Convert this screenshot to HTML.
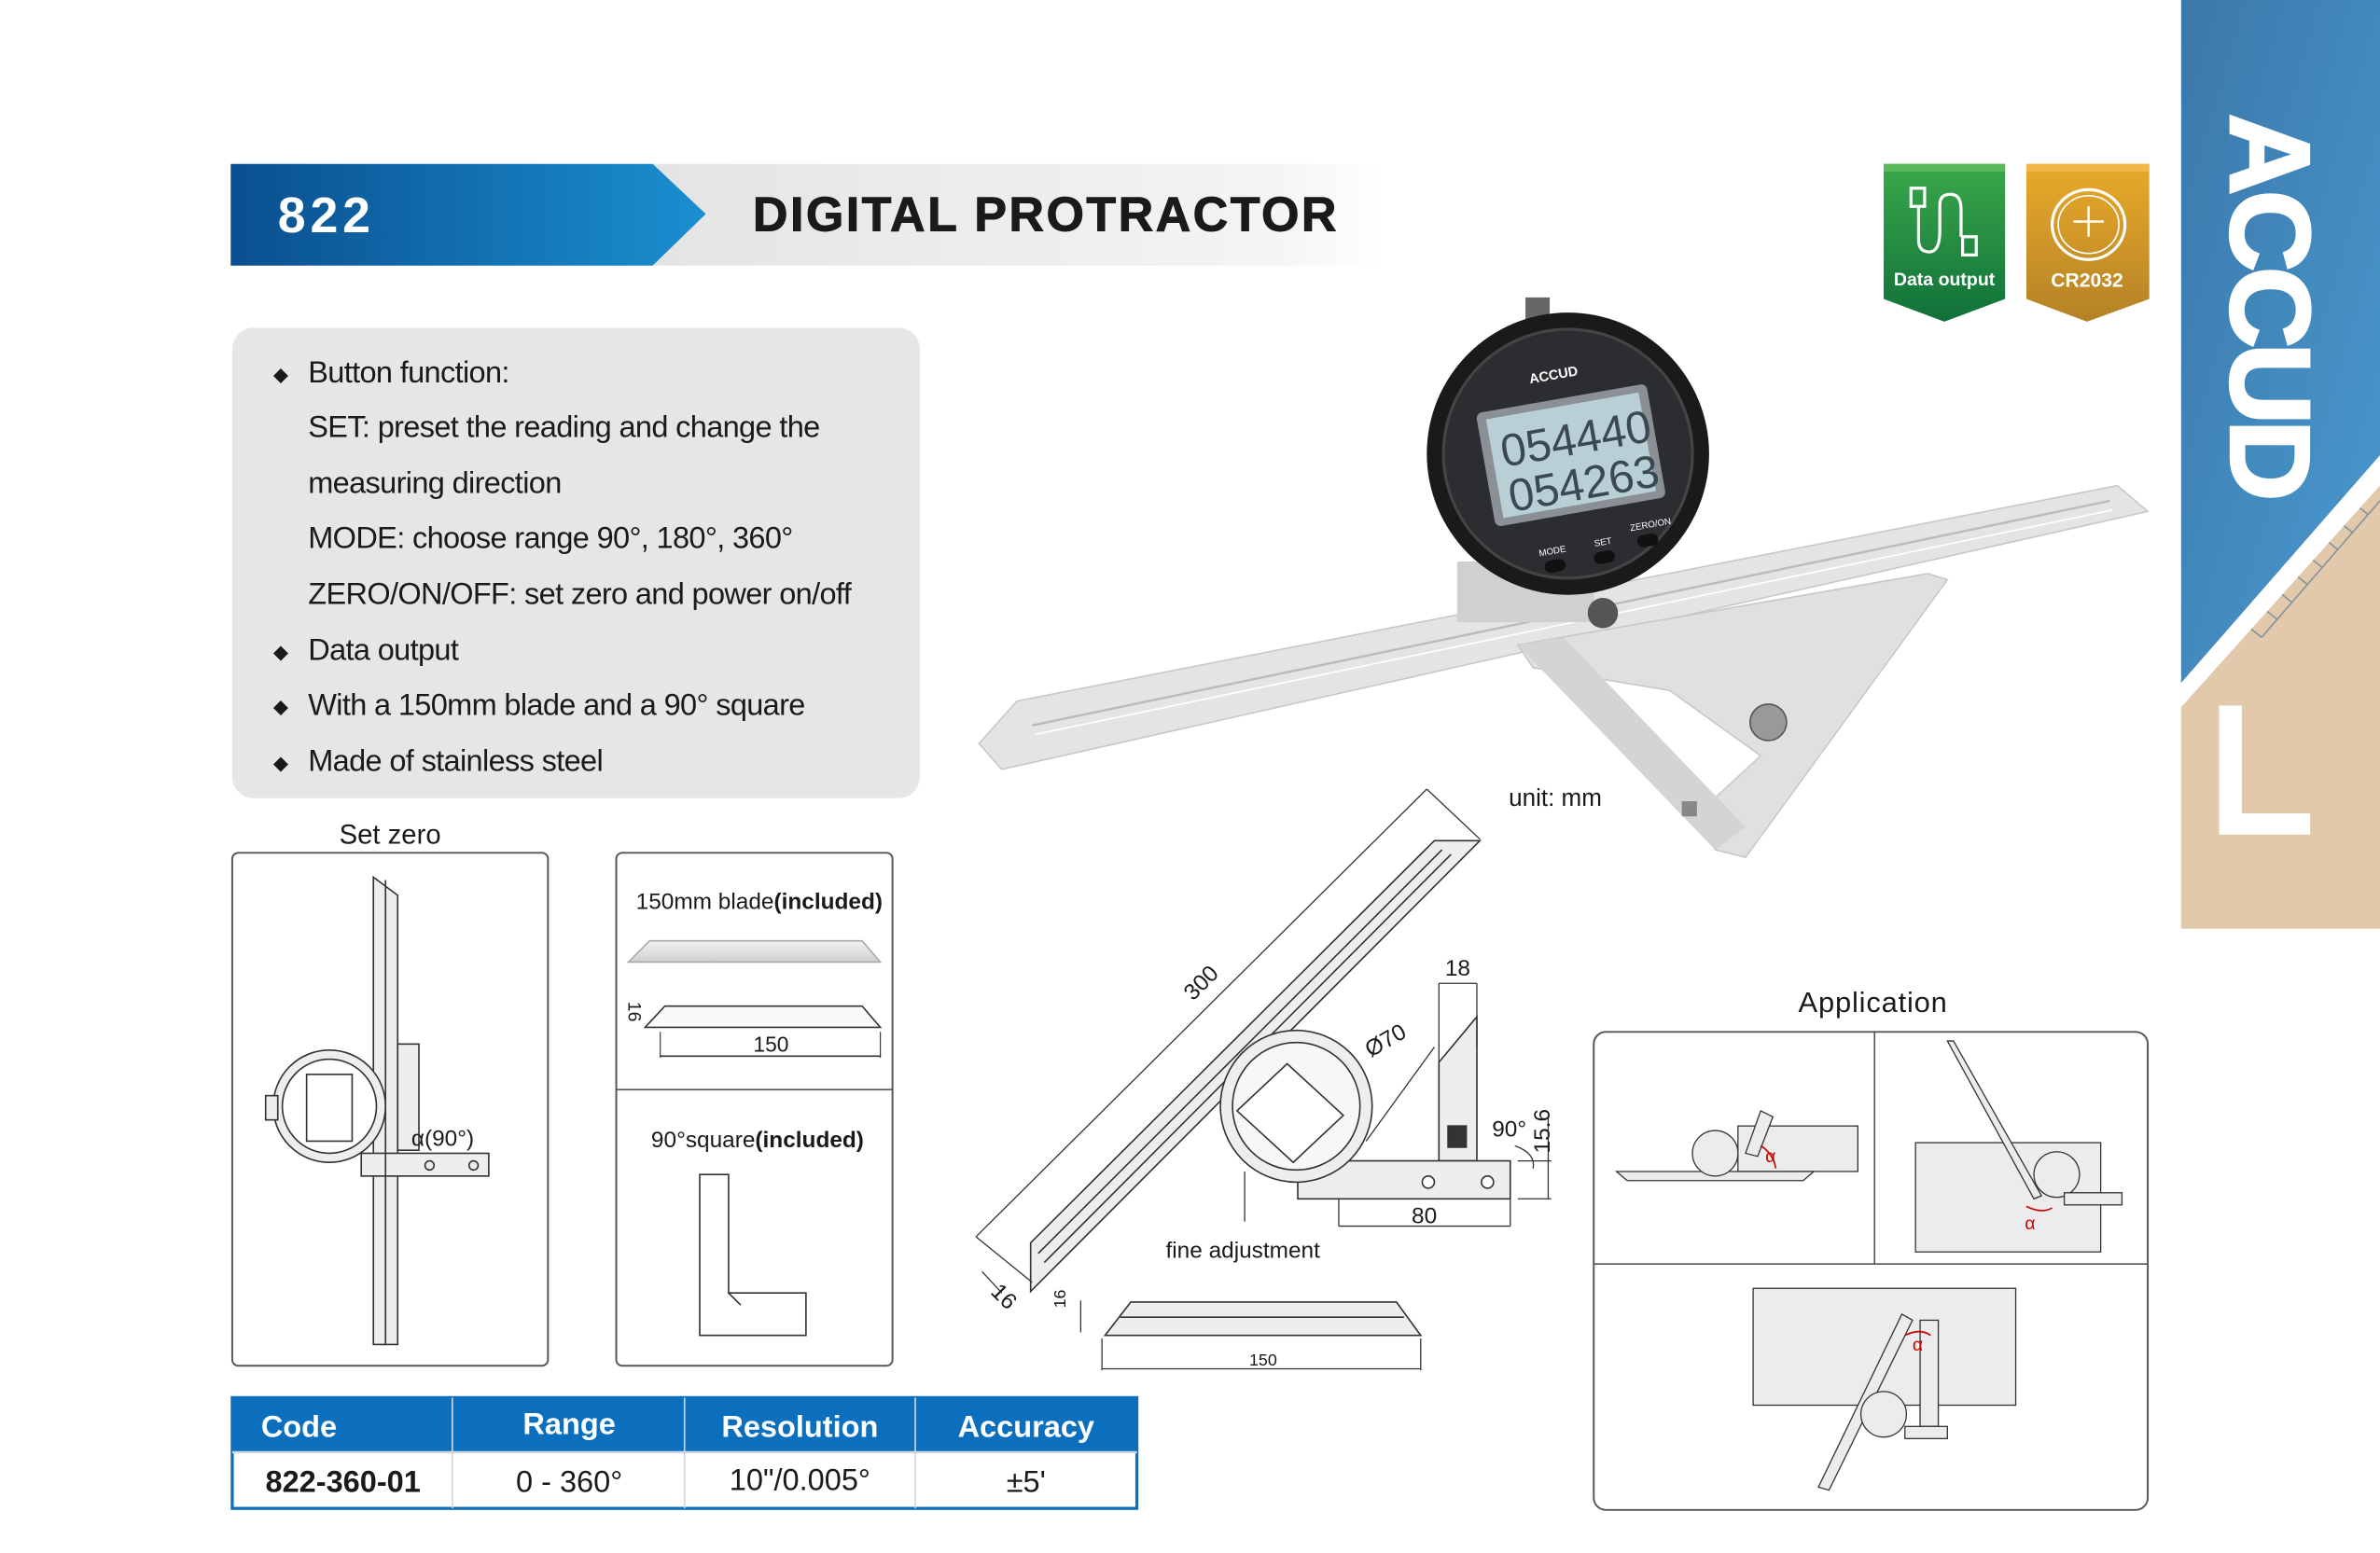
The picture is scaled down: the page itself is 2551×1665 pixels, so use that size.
<!DOCTYPE html>
<html><head><meta charset="utf-8"><style>
html,body{margin:0;padding:0;background:#fff;}
svg{display:block;}
text{font-family:"Liberation Sans",sans-serif;}
</style></head><body>
<svg width="2551" height="1665" viewBox="0 0 1568 1023.4" preserveAspectRatio="none" xmlns="http://www.w3.org/2000/svg">
<defs>
<linearGradient id="hb" x1="0" x2="1"><stop offset="0" stop-color="#0a4f8f"/><stop offset="1" stop-color="#1a8fd0"/></linearGradient>
<linearGradient id="hg" x1="0" x2="1"><stop offset="0" stop-color="#e4e4e4"/><stop offset="0.85" stop-color="#f4f4f4"/><stop offset="1" stop-color="#fff"/></linearGradient>
<linearGradient id="gr" x1="0" y1="0" x2="0" y2="1"><stop offset="0" stop-color="#3aa84a"/><stop offset="1" stop-color="#11703a"/></linearGradient>
<linearGradient id="or" x1="0" y1="0" x2="0" y2="1"><stop offset="0" stop-color="#e9aa2a"/><stop offset="1" stop-color="#b48226"/></linearGradient>
<linearGradient id="bl" x1="0" y1="0" x2="1" y2="1"><stop offset="0" stop-color="#3b78aa"/><stop offset="1" stop-color="#4a9ad0"/></linearGradient>
<linearGradient id="steel" x1="0" y1="0" x2="0" y2="1"><stop offset="0" stop-color="#f2f2f2"/><stop offset="1" stop-color="#d0d0d0"/></linearGradient>
</defs>

<!-- header -->
<polygon points="430,108 910,108 910,175 430,175" fill="url(#hg)"/>
<polygon points="152,108 430,108 465,141 430,175 152,175" fill="url(#hb)"/>
<text x="183" y="153" font-size="33" font-weight="bold" fill="#fff" letter-spacing="3">822</text>
<text x="496" y="152" font-size="32" font-weight="bold" fill="#1a1a1a" letter-spacing="1.5" stroke="#1a1a1a" stroke-width="0.6">DIGITAL PROTRACTOR</text>

<!-- feature box -->
<rect x="153" y="216" width="453" height="310" rx="14" fill="#e6e6e6"/>
<g font-size="20" fill="#1a1a1a" letter-spacing="-0.4">
<text x="180" y="251" font-size="13">◆</text><text x="203" y="252">Button function:</text>
<text x="203" y="288">SET: preset the reading and change the</text>
<text x="203" y="325">measuring direction</text>
<text x="203" y="361">MODE: choose range 90°, 180°, 360°</text>
<text x="203" y="398">ZERO/ON/OFF: set zero and power on/off</text>
<text x="180" y="434" font-size="13">◆</text><text x="203" y="435">Data output</text>
<text x="180" y="470" font-size="13">◆</text><text x="203" y="471">With a 150mm blade and a 90° square</text>
<text x="180" y="507" font-size="13">◆</text><text x="203" y="508">Made of stainless steel</text>
</g>

<!-- badges -->
<polygon points="1241,108 1321,108 1321,197 1281,212 1241,197" fill="url(#gr)"/>
<rect x="1241" y="108" width="80" height="5" fill="#5cb85c"/>
<g stroke="#fff" stroke-width="2" fill="none"><rect x="1259" y="124" width="9" height="12"/><path d="M1264,136 V158 Q1264,166 1271,166 Q1278,166 1278,152 V135 Q1278,128 1285,128 Q1292,128 1292,138 V156"/><rect x="1293" y="156" width="9" height="12"/></g>
<text x="1281" y="188" font-size="12" font-weight="bold" fill="#fff" text-anchor="middle">Data output</text>
<polygon points="1335,108 1416,108 1416,197 1375,212 1335,197" fill="url(#or)"/>
<rect x="1335" y="108" width="81" height="5" fill="#f0b84a"/>
<ellipse cx="1376" cy="148" rx="24" ry="23" fill="none" stroke="#fff" stroke-width="2"/>
<ellipse cx="1376" cy="148" rx="20" ry="19" fill="none" stroke="#fff" stroke-width="1"/>
<path d="M1366,146 H1386 M1376,136 V156" stroke="#fff" stroke-width="1.5"/>
<text x="1375" y="189" font-size="13" font-weight="bold" fill="#fff" text-anchor="middle">CR2032</text>

<!-- right banner -->
<rect x="1437" y="0" width="131" height="612" fill="#e2c9ac"/>
<polygon points="1437,0 1568,0 1568,300 1437,450" fill="url(#bl)"/>
<g stroke="#2d5f88" stroke-width="1" opacity="0.5"><path d="M1490,420 L1568,330"/><path d="M1490,420 l-15,-12 M1500,408 l-10,-8 M1510,397 l-15,-12 M1520,385 l-10,-8 M1530,374 l-15,-12 M1540,362 l-10,-8 M1550,351 l-15,-12 M1560,339 l-10,-8"/></g>
<polygon points="1437,450 1568,300 1568,320 1437,466" fill="#fff"/>
<text x="0" y="0" transform="translate(1470,75) rotate(90)" font-size="74" font-weight="bold" fill="#fff" letter-spacing="-3" stroke="#fff" stroke-width="2">ACCUD</text>
<polygon points="1462,465 1477,465 1477,536 1522,536 1522,550 1462,550" fill="#fff"/>

<!-- product photo -->
<polygon points="645,490 670,462 1395,320 1415,337 660,507" fill="#e4e4e4" stroke="#c8c8c8"/>
<path d="M680,478 L1390,330" stroke="#bbb" stroke-width="1.5"/>
<path d="M682,484 L1392,336" stroke="#fff" stroke-width="1"/>
<polygon points="1000,425 1270,378 1283,382 1150,565 1130,560 1120,535 1160,498 1100,455 1010,440" fill="#e0e0e0" stroke="#c8c8c8"/>
<polygon points="1000,425 1030,420 1150,545 1130,560" fill="#d4d4d4"/>
<circle cx="1165" cy="476" r="12" fill="#999" stroke="#555"/>
<rect x="1108" y="528" width="10" height="10" fill="#888"/>
<rect x="960" y="370" width="90" height="40" fill="#d0d0d0"/>
<circle cx="1056" cy="404" r="10" fill="#555"/>
<rect x="1005" y="196" width="16" height="20" fill="#666"/>
<circle cx="1033" cy="299" r="93" fill="#1a1a1a"/>
<circle cx="1033" cy="299" r="82" fill="#2b2d30" stroke="#444" stroke-width="2"/>
<text x="1024" y="250" font-size="9" font-weight="bold" fill="#fff" text-anchor="middle" transform="rotate(-10 1024 250)">ACCUD</text>
<g transform="rotate(-10 1035 300)">
<rect x="978" y="262" width="114" height="76" rx="4" fill="#8a9095"/>
<rect x="984" y="267" width="102" height="66" fill="#b9cfd6"/>
<text x="990" y="300" font-size="30" fill="#3a4a50" font-family="Liberation Mono">054440</text>
<text x="990" y="330" font-size="30" fill="#3a4a50" font-family="Liberation Mono">054263</text>
<text x="1003" y="362" font-size="6" fill="#fff">MODE</text><text x="1040" y="362" font-size="6" fill="#fff">SET</text><text x="1065" y="356" font-size="6" fill="#fff">ZERO/ON</text>
<rect x="1005" y="366" width="14" height="8" rx="4" fill="#111"/><rect x="1038" y="366" width="14" height="8" rx="4" fill="#111"/><rect x="1068" y="360" width="14" height="8" rx="4" fill="#111"/>
</g>

<text x="994" y="531" font-size="16" fill="#1a1a1a">unit: mm</text>

<!-- set zero panel -->
<text x="257" y="556" font-size="18" fill="#1a1a1a" text-anchor="middle">Set zero</text>
<rect x="153" y="562" width="208" height="338" rx="4" fill="#fff" stroke="#555" stroke-width="1.2"/>
<g fill="#eee" stroke="#333" stroke-width="1">
<polygon points="246,578 262,590 262,886 246,886"/>
<rect x="262" y="688" width="14" height="70"/>
<rect x="238" y="760" width="84" height="15"/>
<circle cx="217" cy="729" r="37"/>
<circle cx="217" cy="729" r="31" fill="#fff"/>
<rect x="202" y="708" width="30" height="44" fill="#fff"/>
<rect x="175" y="722" width="8" height="16"/>
</g>
<path d="M254,580 V886" stroke="#333"/>
<circle cx="283" cy="768" r="3" fill="none" stroke="#333"/><circle cx="312" cy="768" r="3" fill="none" stroke="#333"/>
<text x="271" y="755" font-size="15" fill="#1a1a1a">α(90°)</text>

<!-- blade / square panel -->
<rect x="406" y="562" width="182" height="338" rx="4" fill="#fff" stroke="#555" stroke-width="1.2"/>
<path d="M406,718 H588" stroke="#555"/>
<text x="419" y="599" font-size="15" fill="#1a1a1a">150mm blade<tspan font-weight="bold">(included)</tspan></text>
<polygon points="414,634 428,620 568,620 580,634" fill="url(#steel)" stroke="#aaa"/>
<polygon points="425,677 438,663 568,663 580,677" fill="#fafafa" stroke="#333"/>
<path d="M435,696 H580" stroke="#333"/><path d="M435,680 V697 M580,680 V697" stroke="#333" stroke-width="0.7"/>
<text x="508" y="693" font-size="14" text-anchor="middle" fill="#1a1a1a">150</text>
<text x="0" y="0" transform="translate(414,660) rotate(90)" font-size="12" fill="#1a1a1a">16</text>
<text x="429" y="756" font-size="15" fill="#1a1a1a">90°square<tspan font-weight="bold">(included)</tspan></text>
<polygon points="461,774 480,774 480,852 531,852 531,880 461,880" fill="#fff" stroke="#333"/>
<path d="M480,852 L488,860" stroke="#333"/>

<!-- technical drawing -->
<g stroke="#333" stroke-width="1" fill="#eee">
<polygon points="679,851 679,819 945,554 975,554"/>
<path d="M684,826 L950,560 M688,832 L956,563" fill="none"/>
<polygon points="948,700 973,670 973,765 948,765"/>
<polygon points="855,765 995,765 995,790 855,790"/>
<circle cx="854" cy="729" r="50"/>
<circle cx="854" cy="729" r="42" fill="#f7f7f7"/>
<polygon points="848,701 885,735 852,766 815,732" fill="#fff"/>
<rect x="954" y="742" width="12" height="14" fill="#333"/>
</g>
<circle cx="941" cy="779" r="4" fill="#fff" stroke="#333"/><circle cx="980" cy="779" r="4" fill="#fff" stroke="#333"/>
<g stroke="#333" stroke-width="0.8" fill="none">
<path d="M643,815 L940,520 M940,520 L975,553 M643,815 L680,845"/>
<path d="M647,838 L660,852"/>
<path d="M948,648 H973 M948,648 V700 M973,648 V690"/>
<path d="M995,790 V808 M882,808 H995 M882,790 V808"/>
<path d="M1000,765 H1022 M1000,790 H1022 M1020,735 V790"/>
<path d="M820,772 V805"/>
<path d="M900,752 L945,690"/>
<path d="M728,880 H936 M726,882 V903 M936,882 V903 M726,902 H936"/>
<path d="M712,857 V878"/>
<path d="M998,755 Q1012,760 1010,770"/>
</g>
<polygon points="728,880 745,858 920,858 936,880" fill="#eee" stroke="#333"/>
<path d="M738,868 H925" stroke="#333"/>
<text x="0" y="0" transform="translate(786,660) rotate(-45)" font-size="15" fill="#1a1a1a">300</text>
<text x="0" y="0" transform="translate(652,852) rotate(45)" font-size="15" fill="#1a1a1a">16</text>
<text x="0" y="0" transform="translate(903,697) rotate(-30)" font-size="15" fill="#1a1a1a">Ø70</text>
<text x="952" y="643" font-size="15" fill="#1a1a1a">18</text>
<text x="983" y="749" font-size="15" fill="#1a1a1a">90°</text>
<text x="0" y="0" transform="translate(1021,760) rotate(-90)" font-size="15" fill="#1a1a1a">15.6</text>
<text x="930" y="806" font-size="15" fill="#1a1a1a">80</text>
<text x="768" y="829" font-size="15" fill="#1a1a1a">fine adjustment</text>
<text x="0" y="0" transform="translate(702,862) rotate(-90)" font-size="11" fill="#1a1a1a">16</text>
<text x="823" y="900" font-size="11" fill="#1a1a1a">150</text>

<!-- application -->
<text x="1234" y="667" font-size="19" fill="#1a1a1a" text-anchor="middle" letter-spacing="0.5">Application</text>
<rect x="1050" y="680" width="365" height="315" rx="8" fill="#fff" stroke="#555" stroke-width="1.2"/>
<path d="M1050,833 H1415 M1235,680 V833" stroke="#555"/>
<g stroke="#333" stroke-width="0.8" fill="#ececec">
<rect x="1145" y="742" width="79" height="30"/>
<polygon points="1065,772 1195,772 1188,778 1072,778"/>
<polygon points="1150,760 1160,732 1168,736 1158,762"/>
<circle cx="1130" cy="760" r="15"/>
<rect x="1262" y="753" width="122" height="72"/>
<polygon points="1283,686 1287,686 1345,788 1340,790"/>
<circle cx="1355" cy="774" r="15"/>
<rect x="1360" y="786" width="38" height="8"/>
<rect x="1155" y="849" width="173" height="77"/>
<polygon points="1253,866 1260,870 1205,982 1198,980"/>
<circle cx="1241" cy="932" r="15"/>
<rect x="1265" y="870" width="12" height="70"/>
<rect x="1255" y="940" width="28" height="8"/>
</g>
<g fill="#c00" font-size="12"><text x="1163" y="766">α</text><text x="1334" y="810">α</text><text x="1260" y="890">α</text></g>
<path d="M1160,755 Q1168,760 1170,770 M1335,795 Q1345,800 1352,796 M1255,880 Q1265,875 1272,880" stroke="#c00" fill="none"/>

<!-- table -->
<rect x="153" y="921" width="596" height="73" fill="#fff" stroke="#0c6fbd" stroke-width="2"/>
<rect x="153" y="921" width="596" height="36" fill="#0c6fbd"/>
<path d="M298,921 V994 M451,921 V994 M603,921 V994" stroke="#cfd8e0" stroke-width="1"/>
<path d="M153,957 H749" stroke="#cfd8e0" stroke-width="1.5"/>
<g font-size="20" font-weight="bold" fill="#fff">
<text x="172" y="947">Code</text><text x="375" y="945" text-anchor="middle">Range</text><text x="527" y="947" text-anchor="middle">Resolution</text><text x="676" y="947" text-anchor="middle">Accuracy</text>
</g>
<g font-size="20" fill="#1a1a1a">
<text x="226" y="983" text-anchor="middle" font-weight="bold">822-360-01</text><text x="375" y="983" text-anchor="middle">0 - 360°</text><text x="527" y="982" text-anchor="middle">10"/0.005°</text><text x="676" y="983" text-anchor="middle">±5'</text>
</g>
</svg>
</body></html>
